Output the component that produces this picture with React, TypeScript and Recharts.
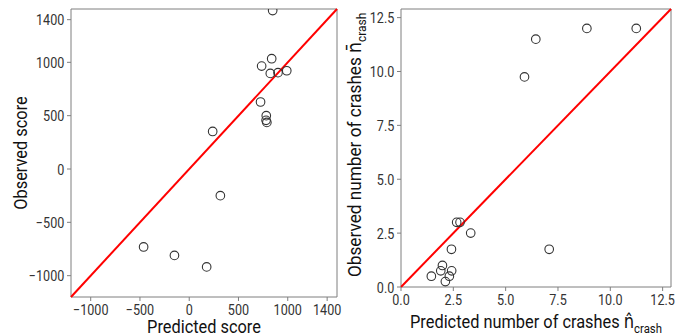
import React from "react";
import {
  ScatterChart,
  Scatter,
  XAxis,
  YAxis,
  ReferenceLine,
  ReferenceArea,
  Label,
} from "recharts";

// Score model: predicted vs observed score
const scorePredicted = [847, 837, 735, 823, 901, 990, 724, 782, 780, 788, 238, 316, -463, -150, 177];
const scoreObserved = [1485, 1034, 965, 896, 903, 921, 628, 500, 456, 437, 352, -250, -731, -810, -918];
const scoreTicks = [-1000, -500, 0, 500, 1000, 1400];
const scoreDomain = [-1200, 1500];

// Crash model: predicted vs observed number of crashes
const crashPredicted = [11.24, 8.88, 6.44, 5.9, 7.08, 3.33, 2.66, 2.82, 2.41, 1.98, 1.9, 2.42, 2.31, 1.45, 2.12];
const crashObserved = [12, 12, 11.5, 9.75, 1.75, 2.5, 3, 3, 1.75, 1, 0.75, 0.75, 0.5, 0.5, 0.25];
const crashTicks = [0, 2.5, 5, 7.5, 10, 12.5];
const crashDomain = [0, 12.9];

const scoreData = scorePredicted.map((x, i) => ({ x, y: scoreObserved[i] }));
const crashData = crashPredicted.map((x, i) => ({ x, y: crashObserved[i] }));

const FONT = "Roboto, 'DejaVu Sans', sans-serif";
const FRAME = "#7f7f7f";
const TICK_SIZE = 15;
const TICK_SCALE = 0.84;

const fmtInt = (v: number) => (v < 0 ? "\u2212" + Math.abs(v) : String(v));
const fmtDec = (v: number) => v.toFixed(1);

const makeXTick = (fmt: (v: number) => string) => (props: any) => {
  const { x, y, payload } = props;
  return (
    <text
      transform={`translate(${x},${y + 14}) scale(${TICK_SCALE},1)`}
      textAnchor="middle"
      fontFamily={FONT}
      fontSize={TICK_SIZE}
      fill="#333"
    >
      {fmt(payload.value)}
    </text>
  );
};

const makeYTick = (fmt: (v: number) => string) => (props: any) => {
  const { x, y, payload } = props;
  return (
    <text
      transform={`translate(${x - 2.7},${y + 5.5}) scale(${TICK_SCALE},1)`}
      textAnchor="end"
      fontFamily={FONT}
      fontSize={TICK_SIZE}
      fill="#333"
    >
      {fmt(payload.value)}
    </text>
  );
};

type TitleProps = {
  x: number;
  y: number;
  vertical?: boolean;
  anchor?: "start" | "middle" | "end";
  stretch?: number;
  main: string;
  accent?: string;
  sub?: string;
};

const AxisTitle = ({ x, y, vertical, anchor = "middle", stretch = 0.875, main, accent, sub }: TitleProps) => (
  <g transform={`translate(${x},${y})${vertical ? " rotate(-90)" : ""} scale(${stretch},1)`}>
    <text textAnchor={anchor} fontFamily={FONT} fontSize={18.7} fill="#111">
      {main}
      {accent ? <tspan>{accent}</tspan> : null}
      {sub ? (
        <tspan fontSize={13} dy={5}>
          {sub}
        </tspan>
      ) : null}
    </text>
  </g>
);

const Dot = (p: any) => (
  <circle cx={p.cx} cy={p.cy} r={4.3} fill="none" stroke="#333" strokeWidth={1.1} />
);

const ScorePanel = () => (
  <ScatterChart width={344} height={335} margin={{ top: 9, right: 7, bottom: 0, left: 0 }}>
    <XAxis
      type="number"
      dataKey="x"
      domain={scoreDomain}
      ticks={scoreTicks}
      allowDataOverflow
      height={38}
      axisLine={false}
      tickLine={{ stroke: FRAME }}
      tickSize={4}
      tickMargin={0}
      tick={makeXTick(fmtInt)}
    >
      <Label
        content={(props: any) => {
          const vb = props.viewBox;
          return <AxisTitle x={vb.x + vb.width / 2} y={vb.y + 35.7} main="Predicted score" />;
        }}
      />
    </XAxis>
    <YAxis
      type="number"
      dataKey="y"
      domain={scoreDomain}
      ticks={scoreTicks}
      allowDataOverflow
      width={71}
      axisLine={false}
      tickLine={{ stroke: FRAME }}
      tickSize={4}
      tickMargin={0}
      tick={makeYTick(fmtInt)}
    >
      <Label
        content={(props: any) => {
          const vb = props.viewBox;
          return <AxisTitle x={27} y={vb.y + vb.height / 2} vertical main="Observed score" />;
        }}
      />
    </YAxis>
    <ReferenceArea
      x1={scoreDomain[0]}
      x2={scoreDomain[1]}
      y1={scoreDomain[0]}
      y2={scoreDomain[1]}
      fill="none"
      stroke={FRAME}
      strokeWidth={1}
    />
    <Scatter data={scoreData} shape={Dot} isAnimationActive={false} />
    <ReferenceLine
      segment={[
        { x: scoreDomain[0], y: scoreDomain[0] },
        { x: scoreDomain[1], y: scoreDomain[1] },
      ]}
      stroke="#ff0000"
      strokeWidth={2}
    />
  </ScatterChart>
);

const CrashPanel = () => (
  <ScatterChart width={344} height={335} margin={{ top: 9, right: 17, bottom: 0, left: 0 }}>
    <XAxis
      type="number"
      dataKey="x"
      domain={crashDomain}
      ticks={crashTicks}
      allowDataOverflow
      height={48}
      axisLine={false}
      tickLine={{ stroke: FRAME }}
      tickSize={4}
      tickMargin={0}
      tick={makeXTick(fmtDec)}
    >
      <Label
        content={(props: any) => {
          const vb = props.viewBox;
          return (
            <AxisTitle
              x={vb.x + vb.width / 2}
              y={vb.y + 41.3}
              main="Predicted number of crashes "
              accent={"n\u0302"}
              sub="crash"
            />
          );
        }}
      />
    </XAxis>
    <YAxis
      type="number"
      dataKey="y"
      domain={crashDomain}
      ticks={crashTicks}
      allowDataOverflow
      width={57}
      axisLine={false}
      tickLine={{ stroke: FRAME }}
      tickSize={4}
      tickMargin={0}
      tick={makeYTick(fmtDec)}
    >
      <Label
        content={() => (
          <AxisTitle
            x={16.7}
            y={277}
            vertical
            anchor="start"
            stretch={0.92}
            main="Observed number of crashes "
            accent={"n\u0304"}
            sub="crash"
          />
        )}
      />
    </YAxis>
    <ReferenceArea
      x1={crashDomain[0]}
      x2={crashDomain[1]}
      y1={crashDomain[0]}
      y2={crashDomain[1]}
      fill="none"
      stroke={FRAME}
      strokeWidth={1}
    />
    <Scatter data={crashData} shape={Dot} isAnimationActive={false} />
    <ReferenceLine
      segment={[
        { x: crashDomain[0], y: crashDomain[0] },
        { x: crashDomain[1], y: crashDomain[1] },
      ]}
      stroke="#ff0000"
      strokeWidth={2}
    />
  </ScatterChart>
);

export default function App() {
  return (
    <div
      style={{
        position: "absolute",
        left: 0,
        top: 0,
        width: 688,
        height: 335,
        background: "#fff",
        overflow: "hidden",
      }}
    >
      <div style={{ position: "absolute", left: 0, top: 0 }}>
        <ScorePanel />
      </div>
      <div style={{ position: "absolute", left: 344, top: 0 }}>
        <CrashPanel />
      </div>
    </div>
  );
}
